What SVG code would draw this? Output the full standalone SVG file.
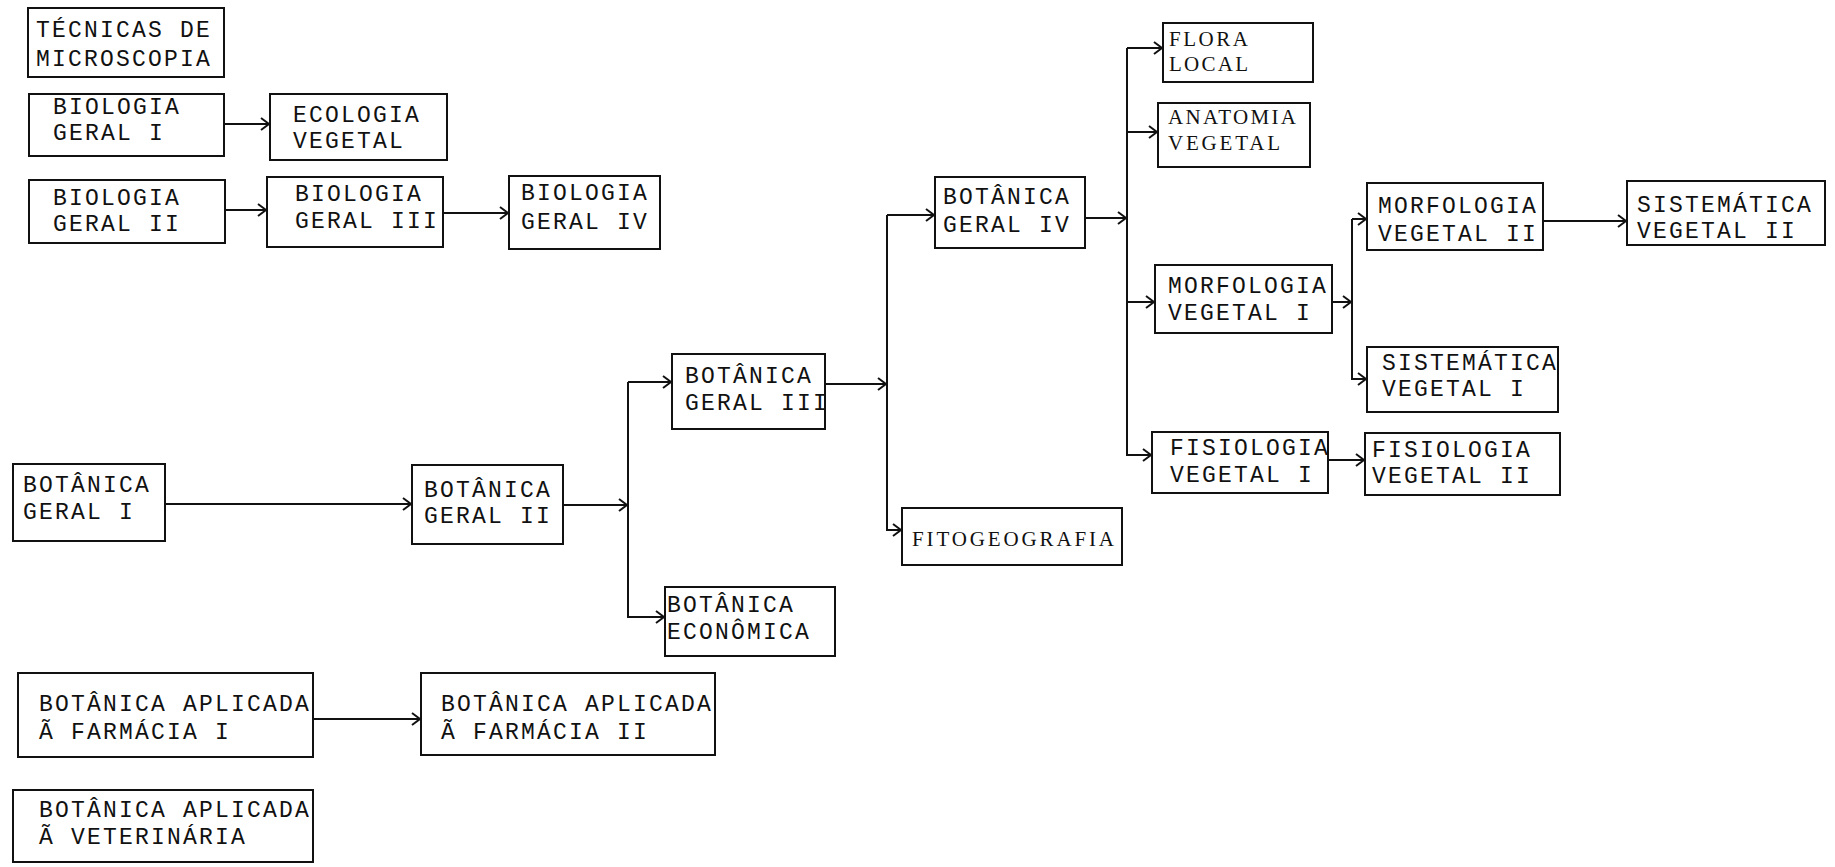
<svg xmlns="http://www.w3.org/2000/svg" width="1835" height="867" viewBox="0 0 1835 867">
<style>
.box{fill:none;stroke:#111;stroke-width:2}
.t{font-family:"Liberation Mono","DejaVu Sans Mono",monospace;font-size:23px;letter-spacing:2.2px;fill:#111}
.s{font-family:"Liberation Serif","DejaVu Serif",serif;font-size:21px;fill:#111}
.c{fill:none;stroke:#111;stroke-width:2}
.a{marker-end:url(#arr)}
</style>
<defs>
<marker id="arr" viewBox="-10 -7 12 14" refX="0" refY="0" markerWidth="12" markerHeight="14" markerUnits="userSpaceOnUse" orient="auto">
<path d="M-8,-6 L0,0 L-8,6" fill="none" stroke="#111" stroke-width="2"/>
</marker>
</defs>
<rect width="1835" height="867" fill="#fff"/>

<g id="tecnicas"><rect class="box" x="28" y="8" width="196" height="69"/><text class="t" x="36" y="37">TÉCNICAS DE</text><text class="t" x="36" y="66">MICROSCOPIA</text></g>
<g id="bio1"><rect class="box" x="29" y="94" width="195" height="62"/><text class="t" x="53" y="114">BIOLOGIA</text><text class="t" x="53" y="140">GERAL I</text></g>
<g id="eco"><rect class="box" x="270" y="94" width="177" height="66"/><text class="t" x="293" y="122">ECOLOGIA</text><text class="t" x="293" y="148">VEGETAL</text></g>
<g id="bio2"><rect class="box" x="29" y="180" width="196" height="63"/><text class="t" x="53" y="205">BIOLOGIA</text><text class="t" x="53" y="231">GERAL II</text></g>
<g id="bio3"><rect class="box" x="267" y="177" width="176" height="70"/><text class="t" x="295" y="201">BIOLOGIA</text><text class="t" x="295" y="228">GERAL III</text></g>
<g id="bio4"><rect class="box" x="509" y="176" width="151" height="73"/><text class="t" x="521" y="200">BIOLOGIA</text><text class="t" x="521" y="229">GERAL IV</text></g>

<g id="bg1"><rect class="box" x="13" y="464" width="152" height="77"/><text class="t" x="23" y="492">BOTÂNICA</text><text class="t" x="23" y="519">GERAL I</text></g>
<g id="bg2"><rect class="box" x="412" y="465" width="151" height="79"/><text class="t" x="424" y="497">BOTÂNICA</text><text class="t" x="424" y="523">GERAL II</text></g>
<g id="bg3"><rect class="box" x="672" y="354" width="153" height="75"/><text class="t" x="685" y="383">BOTÂNICA</text><text class="t" x="685" y="410">GERAL III</text></g>
<g id="beco"><rect class="box" x="665" y="587" width="170" height="69"/><text class="t" x="667" y="612">BOTÂNICA</text><text class="t" x="667" y="639">ECONÔMICA</text></g>
<g id="bg4"><rect class="box" x="935" y="177" width="150" height="71"/><text class="t" x="943" y="204">BOTÂNICA</text><text class="t" x="943" y="232">GERAL IV</text></g>
<g id="fito"><rect class="box" x="902" y="508" width="220" height="57"/><text class="s" x="912" y="546" textLength="202" lengthAdjust="spacing">FITOGEOGRAFIA</text></g>

<g id="flora"><rect class="box" x="1163" y="23" width="150" height="59"/><text class="s" x="1169" y="46" textLength="79" lengthAdjust="spacing">FLORA</text><text class="s" x="1169" y="71" textLength="79" lengthAdjust="spacing">LOCAL</text></g>
<g id="anat"><rect class="box" x="1158" y="103" width="152" height="64"/><text class="s" x="1168" y="124" textLength="128" lengthAdjust="spacing">ANATOMIA</text><text class="s" x="1168" y="150" textLength="112" lengthAdjust="spacing">VEGETAL</text></g>
<g id="morf1"><rect class="box" x="1155" y="265" width="177" height="68"/><text class="t" x="1168" y="293">MORFOLOGIA</text><text class="t" x="1168" y="320">VEGETAL I</text></g>
<g id="fis1"><rect class="box" x="1152" y="432" width="176" height="61"/><text class="t" x="1170" y="455">FISIOLOGIA</text><text class="t" x="1170" y="482">VEGETAL I</text></g>
<g id="morf2"><rect class="box" x="1367" y="183" width="176" height="67"/><text class="t" x="1378" y="213">MORFOLOGIA</text><text class="t" x="1378" y="241">VEGETAL II</text></g>
<g id="sist1"><rect class="box" x="1367" y="347" width="191" height="65"/><text class="t" x="1382" y="370">SISTEMÁTICA</text><text class="t" x="1382" y="396">VEGETAL I</text></g>
<g id="fis2"><rect class="box" x="1365" y="433" width="195" height="62"/><text class="t" x="1372" y="457">FISIOLOGIA</text><text class="t" x="1372" y="483">VEGETAL II</text></g>
<g id="sist2"><rect class="box" x="1627" y="181" width="198" height="64"/><text class="t" x="1637" y="212">SISTEMÁTICA</text><text class="t" x="1637" y="238">VEGETAL II</text></g>

<g id="farm1"><rect class="box" x="18" y="673" width="295" height="84"/><text class="t" x="39" y="711">BOTÂNICA APLICADA</text><text class="t" x="39" y="739">Ã FARMÁCIA I</text></g>
<g id="farm2"><rect class="box" x="421" y="673" width="294" height="82"/><text class="t" x="441" y="711">BOTÂNICA APLICADA</text><text class="t" x="441" y="739">Ã FARMÁCIA II</text></g>
<g id="vet"><rect class="box" x="13" y="790" width="300" height="72"/><text class="t" x="39" y="817">BOTÂNICA APLICADA</text><text class="t" x="39" y="844">Ã VETERINÁRIA</text></g>

<g id="connectors">
<path class="c a" d="M224,124 H269"/>
<path class="c a" d="M225,210 H266"/>
<path class="c a" d="M443,213 H508"/>
<path class="c a" d="M165,504 H411"/>
<path class="c a" d="M563,505 H627"/>
<path class="c" d="M628,382 V618"/>
<path class="c a" d="M628,382 H671"/>
<path class="c a" d="M628,617 H664"/>
<path class="c a" d="M825,384 H886"/>
<path class="c" d="M887,215 V531"/>
<path class="c a" d="M887,215 H934"/>
<path class="c a" d="M887,530 H901"/>
<path class="c a" d="M1085,218 H1126"/>
<path class="c" d="M1127,48 V456"/>
<path class="c a" d="M1127,48 H1162"/>
<path class="c a" d="M1127,132 H1157"/>
<path class="c a" d="M1127,302 H1154"/>
<path class="c a" d="M1127,455 H1151"/>
<path class="c a" d="M1332,302 H1351"/>
<path class="c" d="M1352,219 V380"/>
<path class="c a" d="M1352,219 H1366"/>
<path class="c a" d="M1352,379 H1366"/>
<path class="c a" d="M1543,221 H1626"/>
<path class="c a" d="M1328,460 H1364"/>
<path class="c a" d="M313,719 H420"/>
</g>
</svg>
